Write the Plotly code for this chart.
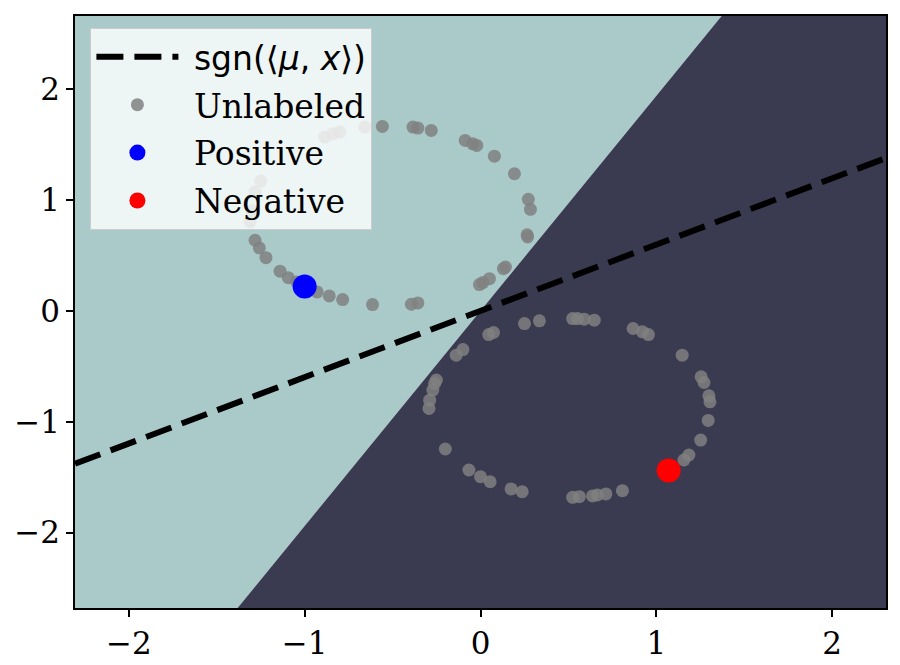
import plotly.graph_objects as go

# axis limits
x_range = [-2.306, 2.306]
y_range = [-2.68, 2.66]

# decision boundary y = boundary_slope * x  (teal above, dark below)
boundary_slope = 1.94
# dashed sgn(<mu,x>) line slope
mu_slope = 0.598

# unlabeled points (two rings)
unlab_x = [-0.658, -0.558, -0.384, -0.356, -0.280, -0.087, -0.044, -0.021, 0.079, 0.193,
           0.272, 0.284, 0.265, 0.268, 0.142, 0.130, 0.051, 0.013, -0.006, -0.356,
           -0.393, -0.614, -0.784, -0.860, -0.929, -1.045, -1.093, -1.140, -1.220, -1.258,
           -1.282, -1.310, -1.300, -1.282, -1.250, -0.885, -0.838, -0.800,
           0.250, 0.335, 0.524, 0.552, 0.590, 0.647, 0.868, 0.921, 0.955, 1.147,
           1.255, 1.271, 1.299, 1.305, 1.295, 1.252, 1.185, 1.157, 0.807, 0.713,
           0.665, 0.637, 0.562, 0.524, 0.237, 0.174, 0.055, 0.000, -0.066, -0.200,
           -0.293, -0.289, -0.271, -0.261, -0.251, -0.138, -0.100, 0.047, 0.074]
unlab_y = [1.658, 1.664, 1.658, 1.649, 1.628, 1.538, 1.507, 1.493, 1.396, 1.237,
           1.006, 0.916, 0.687, 0.667, 0.396, 0.381, 0.291, 0.255, 0.237, 0.072,
           0.060, 0.057, 0.102, 0.135, 0.171, 0.261, 0.300, 0.358, 0.480, 0.568,
           0.637, 0.802, 0.900, 1.072, 1.171, 1.568, 1.597, 1.613,
           -0.114, -0.090, -0.069, -0.069, -0.075, -0.084, -0.159, -0.189, -0.214, -0.399,
           -0.595, -0.646, -0.766, -0.820, -0.988, -1.165, -1.300, -1.345, -1.622, -1.651,
           -1.660, -1.669, -1.676, -1.682, -1.631, -1.606, -1.541, -1.495, -1.435, -1.246,
           -0.880, -0.805, -0.714, -0.655, -0.624, -0.399, -0.349, -0.214, -0.195]

pos_x = [-1.0]
pos_y = [0.22]
neg_x = [1.07]
neg_y = [-1.44]

teal = "#aacaca"
dark = "#3a3a50"


def clip_box(sign):
    # clip the axes rectangle to one side of the boundary line
    box = [(x_range[0], y_range[0]), (x_range[1], y_range[0]),
           (x_range[1], y_range[1]), (x_range[0], y_range[1])]
    f = lambda p: sign * (p[1] - boundary_slope * p[0])
    out = []
    for i in range(4):
        a, b = box[i], box[(i + 1) % 4]
        fa, fb = f(a), f(b)
        if fa >= 0:
            out.append(a)
        if fa * fb < 0:
            t = fa / (fa - fb)
            out.append((a[0] + t * (b[0] - a[0]), a[1] + t * (b[1] - a[1])))
    return [p[0] for p in out], [p[1] for p in out]


fig = go.Figure()

for sign, col in [(1, teal), (-1, dark)]:
    px_, py_ = clip_box(sign)
    fig.add_trace(go.Scatter(x=px_, y=py_, fill="toself", fillcolor=col, mode="none",
                             showlegend=False, hoverinfo="skip"))

sp = "&nbsp;"
fig.add_trace(go.Scatter(
    x=x_range, y=[mu_slope * v for v in x_range], mode="lines", legendgroup="a",
    line=dict(color="black", width=6, dash="27px,11px"),
    name=sp + '<span style="font-family:DejaVu Sans">sgn(⟨<i>μ</i>, <i>x</i>⟩)</span>'))
fig.add_trace(go.Scatter(x=unlab_x, y=unlab_y, mode="markers", name=sp + "Unlabeled",
                         legendgroup="b",
                         marker=dict(color="gray", size=13, opacity=0.85)))
fig.add_trace(go.Scatter(x=pos_x, y=pos_y, mode="markers", name=sp + "Positive",
                         legendgroup="c", marker=dict(color="blue", size=24)))
fig.add_trace(go.Scatter(x=neg_x, y=neg_y, mode="markers", name=sp + "Negative",
                         legendgroup="d", marker=dict(color="red", size=24)))

axis_style = dict(showgrid=False, zeroline=False, showline=True, linecolor="black",
                  linewidth=1.5, mirror=True, ticks="outside", ticklen=7, tickwidth=1.5,
                  tickcolor="black", tickfont=dict(family="DejaVu Serif", size=31, color="black"))

fig.update_xaxes(range=x_range, tickvals=[-2, -1, 0, 1, 2], **axis_style)
fig.update_yaxes(range=y_range, tickvals=[-2, -1, 0, 1, 2], **axis_style)

fig.update_layout(
    width=900, height=665,
    margin=dict(l=67, r=22, t=6, b=65),
    plot_bgcolor="white", paper_bgcolor="white",
    legend=dict(x=0.019, y=0.98, xanchor="left", yanchor="top",
                bgcolor="rgba(255,255,255,0.8)", bordercolor="#cccccc", borderwidth=1,
                font=dict(family="DejaVu Serif", size=33, color="black"),
                itemwidth=82, tracegroupgap=2),
)

fig.write_html("out.html")
